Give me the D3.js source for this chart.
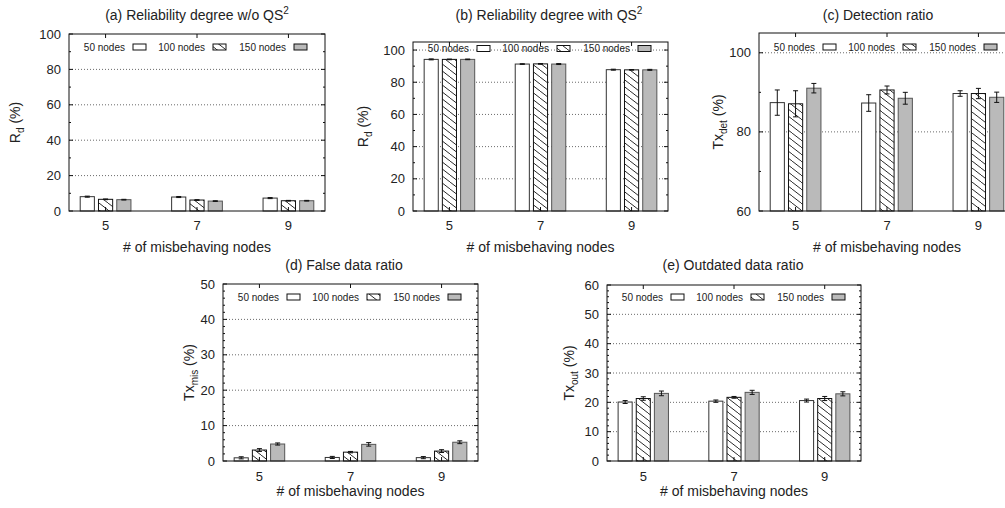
<!DOCTYPE html>
<html lang="en">
<head>
<meta charset="UTF-8">
<title>Misbehaving nodes</title>
<script src="https://cdnjs.cloudflare.com/ajax/libs/d3/7.8.5/d3.min.js"></script>
<style>
  body { margin: 0; background: #fff; }
  svg { display: block; font-family: "Liberation Sans", Arial, sans-serif; }
  text { fill: #222; }
</style>
</head>
<body>
<div id="chart"></div>
<script>
// data, [series][category]
const categories = ["5", "7", "9"];
const seriesNames = ["50 nodes", "100 nodes", "150 nodes"];

const rdNoQs    = [[8.1, 7.9, 7.3], [6.6, 6.2, 5.8], [6.4, 5.6, 5.8]];
const rdNoQsErr = [[0.3, 0.3, 0.3], [0.2, 0.2, 0.2], [0.2, 0.2, 0.2]];

const rdQs    = [[94.2, 91.3, 87.8], [94.2, 91.4, 87.7], [94.2, 91.3, 87.7]];
const rdQsErr = [[0.3, 0.2, 0.3], [0.2, 0.2, 0.2], [0.2, 0.3, 0.3]];

const txDet    = [[87.4, 87.3, 89.7], [87.1, 90.6, 89.7], [91.05, 88.5, 88.75]];
const txDetErr = [[3.2, 2.1, 0.7], [3.3, 1.0, 1.3], [1.2, 1.5, 1.3]];

const txMis    = [[0.9, 1.0, 0.95], [3.1, 2.5, 2.8], [4.8, 4.7, 5.3]];
const txMisErr = [[0.3, 0.3, 0.3], [0.4, 0.2, 0.4], [0.3, 0.5, 0.4]];

const txOut    = [[20.1, 20.4, 20.6], [21.3, 21.7, 21.3], [23.05, 23.4, 22.9]];
const txOutErr = [[0.5, 0.4, 0.5], [0.6, 0.3, 0.7], [0.8, 0.7, 0.7]];

// tick labels
const ticksRd  = [0, 20, 40, 60, 80, 100];
const ticksDet = [60, 80, 100];
const ticksMis = [0, 10, 20, 30, 40, 50];
const ticksOut = [0, 10, 20, 30, 40, 50, 60];

const W = 1005, H = 508;
const svg = d3.select("#chart").append("svg")
  .attr("width", W).attr("height", H);

// hatch pattern "\"
const defs = svg.append("defs");
const pat = defs.append("pattern")
  .attr("id", "hatch").attr("patternUnits", "userSpaceOnUse")
  .attr("width", 9).attr("height", 7);
pat.append("rect").attr("width", 9).attr("height", 7).attr("fill", "#fff");
pat.append("path").attr("d", "M-9,-7L18,14").attr("stroke", "#111").attr("stroke-width", 0.9);

const fills = ["#fff", "url(#hatch)", "#bababa"];
const strokes = ["#333", "#111", "#555"];

const panels = [
  { title: "(a) Reliability degree w/o QS", sup: "2", yl: "R", ysub: "d",
    vals: rdNoQs, errs: rdNoQsErr, ticks: ticksRd, dom: [0, 100], minor: 10,
    left: 69, right: 325, top: 34, bottom: 211, titleX: 197, titleY: 20,
    ylX: 15, legY: 47, xTickY: 229.5, xTitleY: 252 },
  { title: "(b) Reliability degree with QS", sup: "2", yl: "R", ysub: "d",
    vals: rdQs, errs: rdQsErr, ticks: ticksRd, dom: [0, 105], minor: 10,
    left: 413, right: 668, top: 42, bottom: 211, titleX: 549, titleY: 20,
    ylX: 363, legY: 48.5, xTickY: 229.5, xTitleY: 252 },
  { title: "(c) Detection ratio", sup: "", yl: "Tx", ysub: "det",
    vals: txDet, errs: txDetErr, ticks: ticksDet, dom: [60, 105], minor: 10,
    left: 759, right: 1015, top: 33, bottom: 211, titleX: 878, titleY: 20,
    ylX: 718, legY: 47, xTickY: 229.5, xTitleY: 252 },
  { title: "(d) False data ratio", sup: "", yl: "Tx", ysub: "mis",
    vals: txMis, errs: txMisErr, ticks: ticksMis, dom: [0, 50], minor: 2,
    left: 223, right: 478, top: 284, bottom: 461, titleX: 344, titleY: 270,
    ylX: 189, legY: 297, xTickY: 481, xTitleY: 496 },
  { title: "(e) Outdated data ratio", sup: "", yl: "Tx", ysub: "out",
    vals: txOut, errs: txOutErr, ticks: ticksOut, dom: [0, 60], minor: 2,
    left: 607, right: 861, top: 285, bottom: 461, titleX: 733, titleY: 270,
    ylX: 569, legY: 297, xTickY: 481, xTitleY: 496 }
];

panels.forEach(p => {
  const g = svg.append("g");
  const x = d3.scaleLinear().domain([-0.4, 2.4]).range([p.left, p.right]);
  const y = d3.scaleLinear().domain(p.dom).range([p.bottom, p.top]);
  const step = x(1) - x(0);
  const bw = 0.155 * step;

  // dotted grid
  g.selectAll(".grid").data(p.ticks.filter(t => y(t) > p.top + 1 && y(t) < p.bottom - 1))
    .enter().append("line")
    .attr("x1", p.left).attr("x2", p.right)
    .attr("y1", d => y(d)).attr("y2", d => y(d))
    .attr("stroke", "#444").attr("stroke-width", 0.8).attr("stroke-dasharray", "1,2");

  // bars
  p.vals.forEach((series, si) => {
    series.forEach((v, ci) => {
      const cx = x(ci + (si - 1) * 0.2);
      g.append("rect")
        .attr("x", cx - bw / 2).attr("y", y(v))
        .attr("width", bw).attr("height", y(p.dom[0]) - y(v))
        .attr("fill", fills[si]).attr("stroke", strokes[si]).attr("stroke-width", 1);
      const e = p.errs[si][ci];
      const eg = g.append("g").attr("stroke", "#111").attr("stroke-width", 1);
      eg.append("line").attr("x1", cx).attr("x2", cx).attr("y1", y(v + e)).attr("y2", y(v - e));
      eg.append("line").attr("x1", cx - 2.5).attr("x2", cx + 2.5).attr("y1", y(v + e)).attr("y2", y(v + e));
      eg.append("line").attr("x1", cx - 2.5).attr("x2", cx + 2.5).attr("y1", y(v - e)).attr("y2", y(v - e));
    });
  });

  // frame
  g.append("rect").attr("x", p.left).attr("y", p.top)
    .attr("width", p.right - p.left).attr("height", p.bottom - p.top)
    .attr("fill", "none").attr("stroke", "#111").attr("stroke-width", 1);

  // ticks (inward, mirrored)
  const minors = d3.range(p.dom[0], p.dom[1] + 0.001, p.minor).filter(t => !p.ticks.includes(t));
  const tk = g.append("g").attr("stroke", "#111").attr("stroke-width", 1);
  p.ticks.forEach(t => {
    tk.append("line").attr("x1", p.left).attr("x2", p.left + 4).attr("y1", y(t)).attr("y2", y(t));
    tk.append("line").attr("x1", p.right).attr("x2", p.right - 4).attr("y1", y(t)).attr("y2", y(t));
  });
  minors.forEach(t => {
    tk.append("line").attr("x1", p.left).attr("x2", p.left + 2).attr("y1", y(t)).attr("y2", y(t));
    tk.append("line").attr("x1", p.right).attr("x2", p.right - 2).attr("y1", y(t)).attr("y2", y(t));
  });
  categories.forEach((c, i) => {
    tk.append("line").attr("x1", x(i)).attr("x2", x(i)).attr("y1", p.top).attr("y2", p.top + 4);
    tk.append("line").attr("x1", x(i)).attr("x2", x(i)).attr("y1", p.bottom).attr("y2", p.bottom - 4);
  });

  // y tick labels
  g.selectAll(".ylab").data(p.ticks).enter().append("text")
    .attr("x", p.left - 8).attr("y", d => y(d) + 4.5)
    .attr("text-anchor", "end").attr("font-size", 13).text(d => d);

  // x tick labels
  g.selectAll(".xlab").data(categories).enter().append("text")
    .attr("x", (d, i) => x(i)).attr("y", p.xTickY)
    .attr("text-anchor", "middle").attr("font-size", 13).text(d => d);

  // x title
  g.append("text").attr("x", (p.left + Math.min(p.right, 1015)) / 2).attr("y", p.xTitleY)
    .attr("text-anchor", "middle").attr("font-size", 14).text("# of misbehaving nodes");

  // title
  const tt = g.append("text").attr("x", p.titleX).attr("y", p.titleY)
    .attr("text-anchor", "middle").attr("font-size", 14);
  tt.append("tspan").text(p.title);
  if (p.sup) tt.append("tspan").attr("dy", -6).attr("font-size", 10).text(p.sup);

  // y title
  const cy = (p.top + p.bottom) / 2;
  const yt = g.append("text")
    .attr("transform", `translate(${p.ylX + 5},${cy}) rotate(-90)`)
    .attr("text-anchor", "middle").attr("font-size", 14);
  yt.append("tspan").text(p.yl);
  yt.append("tspan").attr("dy", 4).attr("font-size", 10).text(p.ysub);
  yt.append("tspan").attr("dy", -4).text(" (%)");

  // legend
  const boxOff = [64, 144, 225];
  seriesNames.forEach((s, i) => {
    const bx = p.left + boxOff[i];
    g.append("text").attr("x", bx - 8).attr("y", p.legY + 3.5)
      .attr("text-anchor", "end").attr("font-size", 10).text(s);
    g.append("rect").attr("x", bx).attr("y", p.legY - 3)
      .attr("width", 13).attr("height", 6)
      .attr("fill", fills[i]).attr("stroke", "#111").attr("stroke-width", 1);
  });
});
</script>
</body>
</html>
